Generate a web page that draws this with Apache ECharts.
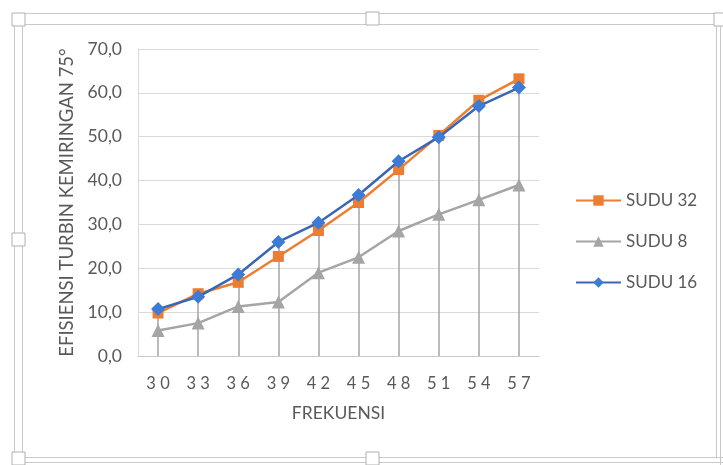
<!DOCTYPE html>
<html>
<head>
<meta charset="utf-8">
<script src="https://cdn.jsdelivr.net/npm/echarts@6/dist/echarts.min.js"></script>
<style>
  html, body { margin: 0; padding: 0; background: #fff; }
  #chart { width: 723px; height: 465px; }
</style>
</head>
<body>
<div id="chart"></div>
<script>
// Frequencies on the category axis
const frekuensi = ['30', '33', '36', '39', '42', '45', '48', '51', '54', '57'];
// Efficiency per blade count
const sudu32 = [9.8, 14.2, 16.8, 22.7, 28.6, 35.0, 42.5, 50.3, 58.3, 63.2];
const sudu8  = [5.8, 7.5, 11.3, 12.3, 19.0, 22.5, 28.5, 32.3, 35.6, 39.0];
const sudu16 = [10.7, 13.5, 18.6, 26.0, 30.4, 36.7, 44.4, 49.9, 57.0, 61.2];
const yTicks = [0, 10, 20, 30, 40, 50, 60, 70];

const FONT = 'Lato';
const TXT = '#595959';

// Drop lines run from the axis up to the highest point in each category
const dropLines = frekuensi.map((f, i) => {
  const top = Math.max(sudu32[i], sudu8[i], sudu16[i]);
  return [{ coord: [f, 0] }, { coord: [f, top] }];
});

// Chart-object frame with selection handles
const frameColor = '#c9c9c9';
function handle(x, y) {
  return { type: 'rect', shape: { x: x, y: y, width: 13, height: 13 },
           style: { fill: '#fff', stroke: '#b0b0b0', lineWidth: 1 }, z: 10 };
}
function line(x1, y1, x2, y2) {
  return { type: 'line', shape: { x1: x1, y1: y1, x2: x2, y2: y2 },
           style: { stroke: frameColor, lineWidth: 1 }, z: 9 };
}
const frame = [
  line(12, 13.5, 723, 13.5), line(22, 24.5, 723, 24.5),
  line(14.5, 13, 14.5, 465), line(22.5, 24, 22.5, 465),
  line(22, 457.5, 723, 457.5), line(12, 462.5, 723, 462.5),
  line(720.5, 13, 720.5, 465), line(716.5, 24, 716.5, 458),
  handle(12, 13), handle(366, 12), handle(714, 13),
  handle(12, 233), handle(12, 452), handle(366, 452)
];

const chart = echarts.init(document.getElementById('chart'), null, { renderer: 'canvas' });
chart.setOption({
  animation: false,
  backgroundColor: '#fff',
  textStyle: { fontFamily: FONT },
  grid: { left: 138, right: 184, top: 49, bottom: 109 },
  legend: {
    orient: 'vertical',
    left: 570,
    top: 187,
    itemWidth: 45,
    itemHeight: 13,
    itemGap: 24,
    textStyle: { fontFamily: FONT, fontSize: 17, color: TXT },
    data: ['SUDU 32', 'SUDU 8', 'SUDU 16']
  },
  xAxis: {
    type: 'category',
    data: frekuensi,
    boundaryGap: true,
    name: 'FREKUENSI',
    nameLocation: 'middle',
    nameGap: 48,
    nameTextStyle: { fontFamily: FONT, fontSize: 17.5, color: TXT },
    axisLine: { lineStyle: { color: '#c8c8c8', width: 1 } },
    axisTick: { show: false },
    axisLabel: {
      margin: 19, fontSize: 16.5, color: TXT, fontFamily: FONT,
      formatter: v => v.split('').join(' ')
    },
    splitLine: { show: false }
  },
  yAxis: {
    type: 'value',
    min: yTicks[0],
    max: yTicks[yTicks.length - 1],
    interval: 10,
    name: 'EFISIENSI TURBIN KEMIRINGAN 75°',
    nameLocation: 'middle',
    nameRotate: 90,
    nameGap: 57,
    nameTextStyle: { fontFamily: FONT, fontSize: 18.5, color: TXT },
    axisLine: { show: true, lineStyle: { color: '#d9d9d9' } },
    axisTick: { show: false },
    axisLabel: {
      margin: 16, fontSize: 17.5, color: TXT, fontFamily: FONT,
      formatter: v => v.toFixed(1).replace('.', ',')
    },
    splitLine: { lineStyle: { color: '#d9d9d9', width: 1 } }
  },
  series: [
    {
      name: 'SUDU 32', type: 'line', data: sudu32,
      symbol: 'rect', symbolSize: 11,
      lineStyle: { color: '#ED7D31', width: 2.5 },
      itemStyle: { color: '#ED7D31' },
      z: 3,
      markLine: {
        silent: true, symbol: ['none', 'none'],
        label: { show: false },
        lineStyle: { color: '#a5a5a5', width: 1.5, type: 'solid' },
        data: dropLines,
        z: 1
      }
    },
    {
      name: 'SUDU 8', type: 'line', data: sudu8,
      symbol: 'triangle', symbolSize: 13,
      lineStyle: { color: '#A5A5A5', width: 2.5 },
      itemStyle: { color: '#A5A5A5' },
      z: 4
    },
    {
      name: 'SUDU 16', type: 'line', data: sudu16,
      symbol: 'diamond', symbolSize: 14,
      lineStyle: { color: '#3B66B5', width: 2.5 },
      itemStyle: { color: '#3C7BD6' },
      z: 5
    }
  ],
  graphic: frame
});
</script>
</body>
</html>
